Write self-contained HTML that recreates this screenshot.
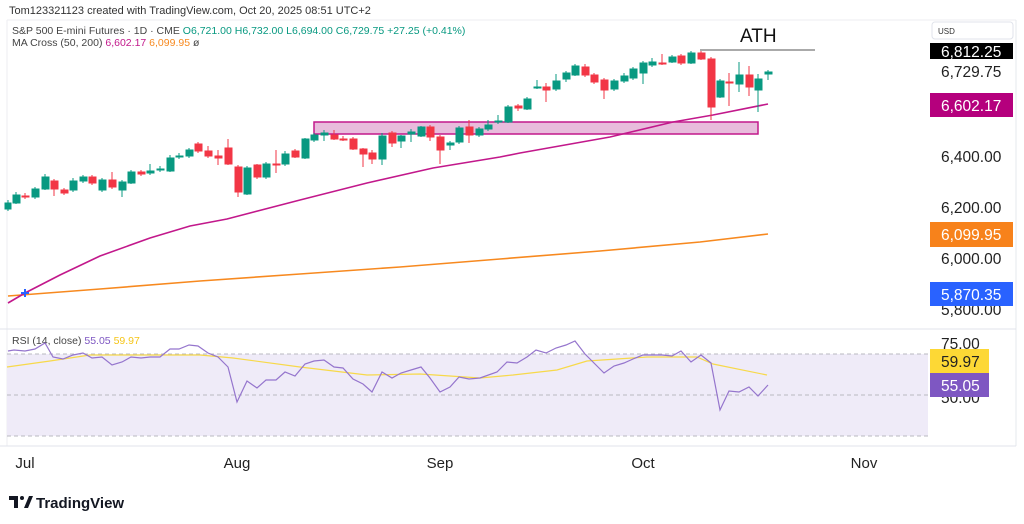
<!DOCTYPE html>
<html><head><meta charset="utf-8"><style>
html,body{margin:0;padding:0;background:#fff;}
svg{display:block;font-family:"Liberation Sans",sans-serif;}
</style></head><body>
<svg width="1024" height="524" viewBox="0 0 1024 524" xmlns="http://www.w3.org/2000/svg">
<rect width="1024" height="524" fill="#fff"/>
<text x="9" y="14" font-size="11" fill="#333">Tom123321123 created with TradingView.com, Oct 20, 2025 08:51 UTC+2</text>
<line x1="7" y1="20" x2="1016" y2="20" stroke="#eceef2"/>
<line x1="7" y1="20" x2="7" y2="446" stroke="#eceef2"/>
<line x1="1016" y1="20" x2="1016" y2="446" stroke="#e6e8ec"/>
<text x="12" y="34" font-size="10.5" fill="#444">S&amp;P 500 E-mini Futures · 1D · CME <tspan fill="#089981">O6,721.00</tspan> <tspan fill="#089981">H6,732.00</tspan> <tspan fill="#089981">L6,694.00</tspan> <tspan fill="#089981">C6,729.75</tspan> <tspan fill="#089981">+27.25 (+0.41%)</tspan></text>
<text x="12" y="46" font-size="10.5" fill="#444">MA Cross (50, 200) <tspan fill="#c2188b">6,602.17</tspan> <tspan fill="#f7891f">6,099.95</tspan> ø</text>

<!-- box -->
<rect x="314" y="122" width="444" height="12" fill="#e8bcdc" stroke="#c2188b" stroke-width="1.5"/>
<!-- ATH -->
<line x1="700" y1="50" x2="815" y2="50" stroke="#555" stroke-width="1"/>
<text x="740" y="42" font-size="19" fill="#111">ATH</text>

<!-- MA200 -->
<polyline fill="none" stroke="#f7891f" stroke-width="1.6" points="8,296 100,289 200,281 300,274 400,267 500,259 600,251 700,242 768,234"/>
<!-- MA50 -->
<polyline fill="none" stroke="#c2188b" stroke-width="1.6" points="8,303 25,293 60,275 100,256 150,238 190,226 227,219 300,200 367,183 433,168 500,157 520,153 610,137 673,122 713,115 768,104"/>
<g stroke="#2962ff" stroke-width="2"><line x1="21" y1="293" x2="29" y2="293"/><line x1="25" y1="289" x2="25" y2="297"/></g>

<!-- green candles -->
<g fill="#089981" stroke="#089981" stroke-width="1">
<line x1="8" y1="200" x2="8" y2="211"/><rect x="5" y="203" width="6" height="6"/>
<line x1="16" y1="192" x2="16" y2="204"/><rect x="13" y="195" width="7" height="8"/>
<line x1="35" y1="187" x2="35" y2="199"/><rect x="32" y="189" width="7" height="8"/>
<line x1="45" y1="174" x2="45" y2="190"/><rect x="42" y="177" width="7" height="12"/>
<line x1="73" y1="178" x2="73" y2="192"/><rect x="70" y="181" width="7" height="9"/>
<line x1="83" y1="175" x2="83" y2="183"/><rect x="80" y="177" width="7" height="4"/>
<line x1="102" y1="178" x2="102" y2="192"/><rect x="99" y="180" width="7" height="10"/>
<line x1="122" y1="180" x2="122" y2="197"/><rect x="119" y="182" width="7" height="8"/>
<line x1="131" y1="170" x2="131" y2="184"/><rect x="128" y="172" width="7" height="11"/>
<line x1="150" y1="164" x2="150" y2="175"/><rect x="147" y="171" width="7" height="2"/>
<line x1="160" y1="166" x2="160" y2="172"/><rect x="157" y="169" width="7" height="1"/>
<line x1="170" y1="155" x2="170" y2="172"/><rect x="167" y="158" width="7" height="13"/>
<line x1="179" y1="153" x2="179" y2="159"/><rect x="176" y="156" width="7" height="1"/>
<line x1="189" y1="148" x2="189" y2="158"/><rect x="186" y="150" width="7" height="6"/>
<line x1="247" y1="166" x2="247" y2="195"/><rect x="244" y="168" width="7" height="26"/>
<line x1="266" y1="162" x2="266" y2="179"/><rect x="263" y="164" width="7" height="13"/>
<line x1="285" y1="151" x2="285" y2="166"/><rect x="282" y="154" width="7" height="10"/>
<line x1="305" y1="138" x2="305" y2="159"/><rect x="302" y="139" width="7" height="19"/>
<line x1="314" y1="133" x2="314" y2="142"/><rect x="311" y="135" width="7" height="5"/>
<line x1="324" y1="130" x2="324" y2="141"/><rect x="321" y="133" width="7" height="2"/>
<line x1="382" y1="133" x2="382" y2="165"/><rect x="379" y="136" width="7" height="23"/>
<line x1="401" y1="135" x2="401" y2="148"/><rect x="398" y="136" width="7" height="5"/>
<line x1="411" y1="129" x2="411" y2="142"/><rect x="408" y="132" width="7" height="2"/>
<line x1="421" y1="126" x2="421" y2="137"/><rect x="418" y="127" width="7" height="9"/>
<line x1="450" y1="141" x2="450" y2="150"/><rect x="447" y="143" width="7" height="2"/>
<line x1="459" y1="126" x2="459" y2="144"/><rect x="456" y="128" width="7" height="14"/>
<line x1="479" y1="127" x2="479" y2="137"/><rect x="476" y="129" width="7" height="6"/>
<line x1="488" y1="120" x2="488" y2="131"/><rect x="485" y="125" width="7" height="4"/>
<line x1="498" y1="115" x2="498" y2="124"/><rect x="495" y="121" width="7" height="1"/>
<line x1="508" y1="105" x2="508" y2="123"/><rect x="505" y="107" width="7" height="15"/>
<line x1="527" y1="97" x2="527" y2="110"/><rect x="524" y="99" width="7" height="10"/>
<line x1="537" y1="80" x2="537" y2="89"/><rect x="534" y="87" width="7" height="1"/>
<line x1="556" y1="74" x2="556" y2="91"/><rect x="553" y="81" width="7" height="8"/>
<line x1="566" y1="71" x2="566" y2="82"/><rect x="563" y="73" width="7" height="6"/>
<line x1="575" y1="64" x2="575" y2="76"/><rect x="572" y="66" width="7" height="9"/>
<line x1="614" y1="79" x2="614" y2="91"/><rect x="611" y="81" width="7" height="8"/>
<line x1="624" y1="73" x2="624" y2="83"/><rect x="621" y="76" width="7" height="5"/>
<line x1="633" y1="67" x2="633" y2="80"/><rect x="630" y="69" width="7" height="9"/>
<line x1="643" y1="61" x2="643" y2="84"/><rect x="640" y="63" width="7" height="10"/>
<line x1="652" y1="58" x2="652" y2="67"/><rect x="649" y="62" width="7" height="3"/>
<line x1="672" y1="55" x2="672" y2="63"/><rect x="669" y="57" width="7" height="5"/>
<line x1="691" y1="51" x2="691" y2="64"/><rect x="688" y="53" width="7" height="10"/>
<line x1="720" y1="79" x2="720" y2="98"/><rect x="717" y="81" width="7" height="16"/>
<line x1="739" y1="62" x2="739" y2="92"/><rect x="736" y="75" width="7" height="9"/>
<line x1="758" y1="74" x2="758" y2="112"/><rect x="755" y="79" width="7" height="11"/>
<line x1="768" y1="70" x2="768" y2="80"/><rect x="765" y="72" width="7" height="2"/>
</g>
<!-- red candles -->
<g fill="#f23645" stroke="#f23645" stroke-width="1">
<line x1="25" y1="193" x2="25" y2="199"/><rect x="22" y="196" width="7" height="1"/>
<line x1="54" y1="179" x2="54" y2="196"/><rect x="51" y="181" width="7" height="8"/>
<line x1="64" y1="188" x2="64" y2="195"/><rect x="61" y="190" width="7" height="3"/>
<line x1="92" y1="175" x2="92" y2="185"/><rect x="89" y="177" width="7" height="6"/>
<line x1="112" y1="172" x2="112" y2="189"/><rect x="109" y="180" width="7" height="7"/>
<line x1="141" y1="170" x2="141" y2="176"/><rect x="138" y="172" width="7" height="2"/>
<line x1="198" y1="142" x2="198" y2="153"/><rect x="195" y="144" width="7" height="7"/>
<line x1="208" y1="146" x2="208" y2="158"/><rect x="205" y="151" width="7" height="5"/>
<line x1="218" y1="150" x2="218" y2="165"/><rect x="215" y="156" width="7" height="2"/>
<line x1="228" y1="139" x2="228" y2="165"/><rect x="225" y="148" width="7" height="16"/>
<line x1="238" y1="165" x2="238" y2="197"/><rect x="235" y="167" width="7" height="25"/>
<line x1="257" y1="164" x2="257" y2="179"/><rect x="254" y="165" width="7" height="12"/>
<line x1="276" y1="150" x2="276" y2="173"/><rect x="273" y="164" width="7" height="1"/>
<line x1="295" y1="149" x2="295" y2="158"/><rect x="292" y="151" width="7" height="6"/>
<line x1="334" y1="130" x2="334" y2="140"/><rect x="331" y="135" width="7" height="4"/>
<line x1="343" y1="136" x2="343" y2="141"/><rect x="340" y="139" width="7" height="1"/>
<line x1="353" y1="137" x2="353" y2="150"/><rect x="350" y="139" width="7" height="10"/>
<line x1="363" y1="148" x2="363" y2="167"/><rect x="360" y="149" width="7" height="5"/>
<line x1="372" y1="150" x2="372" y2="164"/><rect x="369" y="153" width="7" height="6"/>
<line x1="392" y1="131" x2="392" y2="147"/><rect x="389" y="133" width="7" height="10"/>
<line x1="430" y1="125" x2="430" y2="141"/><rect x="427" y="127" width="7" height="10"/>
<line x1="440" y1="135" x2="440" y2="164"/><rect x="437" y="137" width="7" height="13"/>
<line x1="469" y1="120" x2="469" y2="143"/><rect x="466" y="127" width="7" height="8"/>
<line x1="518" y1="104" x2="518" y2="111"/><rect x="515" y="106" width="7" height="2"/>
<line x1="546" y1="83" x2="546" y2="102"/><rect x="543" y="87" width="7" height="3"/>
<line x1="585" y1="64" x2="585" y2="77"/><rect x="582" y="67" width="7" height="8"/>
<line x1="594" y1="73" x2="594" y2="84"/><rect x="591" y="75" width="7" height="7"/>
<line x1="604" y1="78" x2="604" y2="99"/><rect x="601" y="80" width="7" height="10"/>
<line x1="662" y1="54" x2="662" y2="65"/><rect x="659" y="63" width="7" height="1"/>
<line x1="681" y1="54" x2="681" y2="65"/><rect x="678" y="56" width="7" height="7"/>
<line x1="701" y1="51" x2="701" y2="60"/><rect x="698" y="53" width="7" height="6"/>
<line x1="711" y1="57" x2="711" y2="120"/><rect x="708" y="59" width="7" height="48"/>
<line x1="729" y1="73" x2="729" y2="106"/><rect x="726" y="82" width="7" height="1"/>
<line x1="749" y1="66" x2="749" y2="96"/><rect x="746" y="75" width="7" height="12"/>
</g>

<!-- right axis -->
<rect x="932" y="22" width="81" height="17" rx="3" fill="#fff" stroke="#e0e3eb"/>
<text x="938" y="34" font-size="8" fill="#333">USD</text>
<g font-size="15.5" text-anchor="start">
<rect x="930" y="43" width="83" height="16" fill="#000"/>
<text x="941" y="57" fill="#fff">6,812.25</text>
<text x="941" y="77" fill="#222">6,729.75</text>
<rect x="930" y="93" width="83" height="24" fill="#b5007d"/>
<text x="941" y="111" fill="#fff">6,602.17</text>
<text x="941" y="162" fill="#222">6,400.00</text>
<text x="941" y="213" fill="#222">6,200.00</text>
<rect x="930" y="222" width="83" height="25" fill="#f7821b"/>
<text x="941" y="240" fill="#fff">6,099.95</text>
<text x="941" y="264" fill="#222">6,000.00</text>
<text x="941" y="315" fill="#222">5,800.00</text>
<rect x="930" y="282" width="83" height="24" fill="#2962ff"/>
<text x="941" y="300" fill="#fff">5,870.35</text>
</g>
<line x1="0" y1="329" x2="1016" y2="329" stroke="#e0e3eb"/>

<!-- RSI pane -->
<text x="12" y="344" font-size="10.5" fill="#444">RSI (14, close) <tspan fill="#7e57c2">55.05</tspan> <tspan fill="#f5c518">59.97</tspan></text>
<rect x="7" y="354" width="921" height="82" fill="#efebf8"/>
<g stroke="#b8b8c0" stroke-dasharray="4,3" stroke-width="1">
<line x1="7" y1="354" x2="928" y2="354"/><line x1="7" y1="395" x2="928" y2="395"/><line x1="7" y1="436" x2="928" y2="436"/>
</g>
<polyline fill="none" stroke="#f7d94a" stroke-width="1.2" points="7,367 50,361 90,355 140,355 200,355 233,358 300,367 367,375 420,374 480,378 513,375 557,370 587,361 647,357 697,357 713,364 767,375"/>
<polyline fill="none" stroke="#9575cd" stroke-width="1.2" points="8,351 14,350 25,351 35,349 45,343 53,357 63,359 73,355 83,353 92,358 102,357 112,365 122,362 131,357 141,358 150,357 160,357 170,349 179,349 189,345 198,346 208,353 218,357 228,367 237,402 247,381 257,388 266,380 276,380 285,372 295,376 305,364 314,361 324,360 334,367 343,368 353,379 363,384 372,392 382,372 392,378 401,373 411,370 421,367 430,378 440,392 450,387 459,377 469,379 480,378 497,372 507,362 517,363 527,357 536,350 546,353 556,348 566,345 575,341 585,354 604,373 614,366 624,363 633,359 643,355 652,355 662,355 672,356 681,351 691,362 701,355 711,363 720,410 729,391 739,392 749,387 758,396 768,385"/>
<g font-size="15.5">
<text x="941" y="349" fill="#222">75.00</text>
<text x="941" y="403" fill="#222">50.00</text>
<rect x="930" y="349" width="59" height="24" fill="#fdd835"/>
<text x="941" y="367" fill="#222">59.97</text>
<rect x="930" y="373" width="59" height="24" fill="#7e57c2"/>
<text x="941" y="391" fill="#fff">55.05</text>
</g>

<!-- time axis -->
<line x1="0" y1="446" x2="1016" y2="446" stroke="#e0e3eb"/>
<g font-size="15" fill="#222" text-anchor="middle">
<text x="25" y="468">Jul</text>
<text x="237" y="468">Aug</text>
<text x="440" y="468">Sep</text>
<text x="643" y="468">Oct</text>
<text x="864" y="468">Nov</text>
</g>
<!-- logo -->
<g fill="#131722">
<path d="M9 496h9v12h-4v-8h-5z"/>
<circle cx="22" cy="498" r="2"/>
<path d="M24 508l5-12h4l-5 12z"/>
</g>
<text x="36" y="508" font-size="15" font-weight="bold" fill="#131722">TradingView</text>
</svg>
</body></html>
